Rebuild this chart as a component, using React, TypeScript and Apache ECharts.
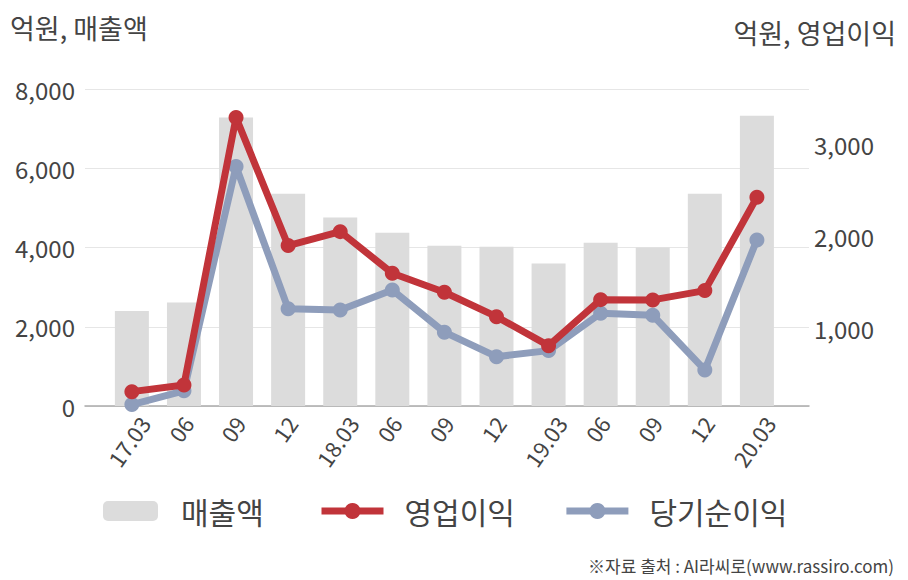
import React, { useEffect, useRef } from 'react';
import * as echarts from 'echarts';

const categories = ['17.03', '06', '09', '12', '18.03', '06', '09', '12', '19.03', '06', '09', '12', '20.03'];
const revenue = [2400, 2610, 7280, 5355, 4756, 4370, 4042, 4016, 3594, 4117, 3999, 5355, 7325];
const operatingProfit = [311, 384, 3289, 1898, 2050, 1598, 1391, 1126, 811, 1311, 1308, 1409, 2424];
const netProfit = [170, 320, 2757, 1213, 1199, 1416, 957, 691, 757, 1163, 1141, 547, 1960];
const leftTicks = [0, 2000, 4000, 6000, 8000];
const rightTicks = [1000, 2000, 3000];

const FONT = "'Noto Sans CJK KR', 'Noto Sans', sans-serif";
const TEXT = '#444444';
const RED = '#c1343a';
const BLUE = '#8e9dbb';
const GRAY = '#dcdcdc';

const fmt = (v: number) => v.toLocaleString('en-US');

export default function App() {
  const ref = useRef<HTMLDivElement>(null);
  useEffect(() => {
    if (!ref.current) return;
    const chart = echarts.init(ref.current, null, { renderer: 'svg' });
    const option: any = {
      animation: false,
      textStyle: { fontFamily: FONT },
      title: [
        { text: '억원, 매출액', left: 10, top: 14, padding: 0, textStyle: { fontSize: 27, fontWeight: 'normal', color: TEXT, fontFamily: FONT } },
        { text: '억원, 영업이익', right: 12, top: 19, padding: 0, textStyle: { fontSize: 27, fontWeight: 'normal', color: TEXT, fontFamily: FONT } },
        { text: '※자료 출처 : AI라씨로(www.rassiro.com)', right: 14, top: 557, padding: 0, textStyle: { fontSize: 17, fontWeight: 'normal', color: TEXT, fontFamily: FONT } },
      ],
      legend: [
        {
          data: ['매출액'], left: 103, top: 496, padding: 0,
          itemWidth: 55, itemHeight: 20, itemGap: 50,
          textStyle: { fontSize: 30, color: TEXT, fontFamily: FONT, padding: [0, 0, 0, 18] },
        },
        {
          data: ['영업이익', '당기순이익'], left: 318, top: 496, padding: 0,
          itemWidth: 62, itemHeight: 20, itemGap: 48,
          lineStyle: { width: 7 },
          textStyle: { fontSize: 30, color: TEXT, fontFamily: FONT, padding: [0, 0, 0, 16] },
        },
      ],
      grid: { left: 85, right: 99, top: 89, bottom: 174, containLabel: false },
      xAxis: {
        type: 'value', min: -0.9, max: 13,
        axisLine: { show: true, onZero: false, lineStyle: { color: '#aaaaaa', width: 1.5 } },
        axisTick: { show: false },
        splitLine: { show: false },
        axisLabel: {
          customValues: categories.map((_, i) => i),
          rotate: 55, margin: 4, color: TEXT, fontSize: 22,
          formatter: (v: number) => {
            const c = categories[Math.round(v)];
            return c.length > 2 ? `{l|${c}}` : `{s|${c}}`;
          },
          rich: {
            l: { fontSize: 22, color: TEXT, fontFamily: FONT, padding: [30, 0, 0, 0] },
            s: { fontSize: 22, color: TEXT, fontFamily: FONT, padding: [15, 5, 0, 0] },
          },
        },
      },
      yAxis: [
        {
          type: 'value', min: 0, max: 8000, interval: 2000,
          axisLine: { show: false, onZero: false }, axisTick: { show: false },
          splitLine: { show: true, lineStyle: { color: '#e6e6e6', width: 1 } },
          axisLabel: { color: TEXT, fontSize: 24, margin: 10, formatter: (v: number) => (leftTicks.includes(v) ? fmt(v) : '') },
        },
        {
          type: 'value', min: 155, max: 3600, position: 'right',
          axisLine: { show: false, onZero: false }, axisTick: { show: false },
          splitLine: { show: false },
          axisLabel: { customValues: rightTicks, color: TEXT, fontSize: 24, margin: 5, formatter: (v: number) => fmt(v) },
        },
      ],
      series: [
        {
          name: '매출액', type: 'bar', yAxisIndex: 0, barWidth: 34,
          itemStyle: { color: GRAY },
          data: revenue.map((v, i) => [i, v]),
          z: 1,
        },
        {
          name: '당기순이익', type: 'line', yAxisIndex: 1,
          symbol: 'circle', symbolSize: 15, showSymbol: true,
          lineStyle: { color: BLUE, width: 7 }, itemStyle: { color: BLUE },
          data: netProfit.map((v, i) => [i, v]),
          z: 3,
        },
        {
          name: '영업이익', type: 'line', yAxisIndex: 1,
          symbol: 'circle', symbolSize: 15, showSymbol: true,
          lineStyle: { color: RED, width: 7 }, itemStyle: { color: RED },
          data: operatingProfit.map((v, i) => [i, v]),
          z: 4,
        },
      ],
    };
    chart.setOption(option);
    return () => chart.dispose();
  }, []);
  return <div ref={ref} style={{ width: 908, height: 580, position: 'absolute', left: 0, top: 0 }} />;
}
